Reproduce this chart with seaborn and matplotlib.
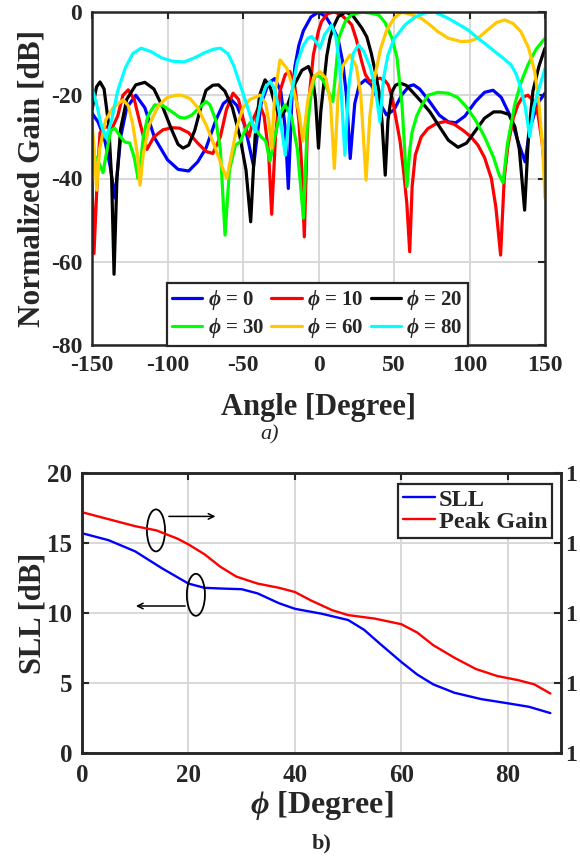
import matplotlib
matplotlib.use("Agg")
import matplotlib.pyplot as plt
from matplotlib.patches import Ellipse
import seaborn as sns

# ---------------- data: panel a) radiation patterns ----------------
ang0 = [-150, -146, -142, -138, -134.8, -131, -127, -121, -115, -108.5, -100, -93, -86, -80, -74.5, -68, -63,
        -58.6, -54, -49, -43, -38, -33, -29, -25, -22, -20, -17.5, -15.6, -13, -10, -5, 0, 5, 10, 13, 16, 18.5,
        21, 24, 27, 31, 35, 40, 45, 50, 55, 60, 63, 67, 72.5, 80, 86, 91, 97, 104, 110, 115.6, 121, 127, 132,
        136.8, 140, 145, 150]
gain0 = [-24.3, -26.4, -30, -37, -44.7, -30, -23, -20, -23, -30.3, -35.5, -37.8, -38.2, -36, -32.7, -26, -22,
         -20.7, -22.5, -27, -37, -22, -17, -16, -19, -28, -42.4, -20, -13, -8, -4.5, -1.2, 0, -1.2, -4.2, -6.5,
         -12, -20, -35.2, -22, -17.5, -16.3, -17.5, -21.5, -24.7, -23.5, -20, -17.8, -17.5, -18.5, -21, -24.8,
         -26.4, -26.6, -25, -21.5, -19.3, -18.8, -20.5, -25, -31, -36, -28, -22, -19.5]

ang10 = [-150, -148.7, -146.5, -144.7, -141, -137, -133, -129.5, -126, -122, -118, -113.6, -109, -103, -97, -92,
         -86, -80, -74.5, -70, -65, -61, -56.6, -53, -49, -46, -43, -39, -36, -33, -31, -28.5, -25.5, -22, -19,
         -16, -13, -11, -9.4, -7.5, -6.7, -3.4, 0, 2, 6, 10.5, 15, 20, 22, 25, 28.6, 31, 34, 37, 40.7, 44, 46.2,
         49, 51, 54, 56.4, 58.5, 60.4, 62, 64.1, 68, 72.5, 78, 84, 90, 96, 101, 105.6, 110, 114.5, 117.5, 120.6,
         123, 125.5, 129, 132, 135, 138.7, 142, 145.4, 148, 150]
gain10 = [-40.8, -58, -40, -29, -27.5, -28.2, -25, -20, -18.7, -21, -27, -33, -30, -28.3, -27.8, -27.9, -29,
          -31.5, -33.5, -34, -30, -23.5, -19.5, -21, -27, -30, -25.5, -22.3, -25, -34, -48.6, -30, -19, -15,
          -14.3, -17, -26, -38, -54, -30, -22.3, -10.3, -4.5, -2.3, -0.4, 0, -0.7, -2.3, -3.1, -6.5, -11.9, -15,
          -16.7, -16.2, -15.9, -16.5, -17.5, -21, -25, -31, -38.4, -46, -57.6, -42, -34.4, -30, -28, -26.8,
          -26.3, -27, -28.5, -30, -32, -35, -40, -47, -58.4, -40, -32, -25.5, -22.3, -20.5, -20, -21.2, -24.7,
          -31, -39]

ang20 = [-150, -147, -144.7, -142, -139, -137, -135.4, -133.5, -131, -127, -121, -115, -109, -103, -97, -93,
         -89.7, -86, -82, -78, -74.5, -70, -66.3, -62, -57, -52, -48, -44.9, -42, -39, -35.4, -32, -29, -25.5,
         -21, -16, -11, -6.7, -4, -2, 0, 1.5, 3.2, 5.5, 7.6, 10, 13.1, 18, 23, 26, 28.8, 32, 35, 37.6, 40, 42,
         44.2, 46, 48.7, 51, 54.2, 58, 62, 68, 73.8, 80, 86, 92.4, 98, 104, 110, 116, 120.9, 126, 130, 133,
         136.5, 139, 142, 146, 150]
gain20 = [-23.5, -18, -16.8, -18.5, -27, -40, -63, -40, -28, -21, -17.5, -16.9, -18.5, -23, -28.5, -31.8,
          -32.7, -32, -28.5, -23, -18.8, -17.6, -17.5, -19, -23, -30, -38, -50.4, -30, -20, -16.3, -18, -22,
          -25.5, -23, -17.5, -14, -13.1, -15.5, -21, -32.7, -24, -18.3, -10.5, -6.3, -3.5, -1.1, 0, -1, -2.5,
          -3.9, -6, -10, -14.3, -19, -26, -39.2, -26, -19.1, -17.6, -17.1, -17.6, -19.1, -21.5, -24, -27.5,
          -30.8, -32.5, -31.5, -28.5, -25.5, -24, -24, -24.6, -27.5, -33, -47.6, -30, -19, -13, -8.7]

ang30 = [-150, -147, -144.5, -142.7, -140, -137.5, -135, -132, -128.4, -125, -122, -119.5, -118.4, -116, -113,
         -108.5, -103, -97, -92, -88.6, -84, -79, -74.5, -71.9, -68, -65, -61.9, -59, -55, -52, -48, -45, -42,
         -38, -35, -32.1, -29, -25.5, -22.2, -18, -14, -10, -7.5, -5, -2.3, 1, 4, 7, 9.5, 11.5, 13.4, 17.7, 22,
         29, 35, 39.9, 44, 48.7, 52, 55.3, 58.5, 60.5, 62, 65, 68.6, 72.5, 79, 85.8, 92, 98, 104, 110, 116,
         119.5, 122.2, 125, 129.9, 134, 138.7, 144, 150]
gain30 = [-34.4, -35, -37, -38.6, -33, -28.5, -27.9, -29.5, -31.2, -31.5, -35, -40, -38, -30, -25, -22.3,
          -22.5, -24, -25.3, -25.5, -24.8, -23, -21.5, -22.3, -26, -33, -53.6, -38, -32, -31.2, -28, -26.5, -28,
          -30, -31, -35.8, -30, -24.5, -22.3, -25, -33, -49.5, -28, -20, -15.3, -15.5, -17, -19.5, -21.5, -14,
          -6.3, -2.3, -0.6, 0, -0.3, -0.7, -2.5, -6.3, -11, -22.3, -42, -33, -28.8, -25, -22.3, -20, -19.3,
          -19.5, -20.5, -22.8, -26, -30, -35, -39, -41, -32, -22.3, -17, -12.7, -9, -6.3]

ang60 = [-150, -148.5, -146.9, -145, -141, -136, -132.6, -129.4, -126, -123, -120, -118.2, -116, -112, -106,
         -100, -94, -90.6, -85, -80, -74, -68, -63, -60.8, -58, -54, -50, -45.4, -38.7, -35, -33, -31, -29,
         -25.5, -21, -17, -13, -10.3, -7, -3, 1, 5, 8, 10.5, 13, 16, 20.9, 25, 28, 31.5, 34, 37, 41, 45, 50, 55,
         62, 68, 73.8, 79, 86, 94.4, 100, 105.6, 112, 118, 123.3, 129, 134, 139, 143.2, 146, 148.5, 150]
gain60 = [-26.7, -33, -42.8, -33, -26, -23, -22, -21.1, -22.5, -27, -34, -41.6, -34, -27, -22.5, -20.5, -20,
          -20, -20.8, -23, -27.5, -33, -38, -40, -35, -27.5, -23, -21, -20, -22, -26, -32.7, -20, -11.5, -13.5,
          -18, -24, -31, -21, -15.5, -14.3, -16, -22, -37.6, -20, -13, -10.3, -13, -20, -40.4, -25, -16, -9,
          -4.5, -1.5, 0, -0.7, -1.5, -3.1, -4.7, -6.3, -7.1, -7, -6.3, -4.3, -2.5, -1.9, -2.8, -4.7, -8.5,
          -14.3, -22, -33, -44.7]

ang80 = [-150, -147, -144, -140.7, -137, -133, -128, -123, -117.5, -111, -104, -97, -89, -82, -75, -69, -65,
         -60, -56, -54.2, -50, -46, -42, -38, -35, -32, -29, -26, -22, -18, -14, -10, -7, -4.5, -1.5, 1, 4,
         8.7, 11.5, 14, 17.5, 20, 23, 26.5, 30, 34, 37.5, 40.7, 43, 46, 50, 57.3, 64, 70.5, 77, 85.8, 92, 99,
         105.6, 111, 116.7, 122, 127.5, 131, 134, 137, 139.9, 142.5, 145.4, 148, 150]
gain80 = [-18.3, -22, -27, -30.3, -26, -19, -13.5, -10, -8.7, -9.5, -11, -11.8, -12, -11, -9.7, -8.9, -8.7,
          -10, -13, -15, -19.5, -24, -28.8, -21, -18, -16.7, -18.5, -24, -34.4, -20, -12, -8, -6.3, -5.9,
          -7.2, -8.7, -5.5, -3.1, -6, -13, -34.4, -18, -10, -7.9, -9.5, -13, -18, -26.4, -16, -10.3, -6.5,
          -3.1, -1.2, -0.2, 0, -1.5, -2.8, -4.3, -6.3, -7.8, -9.5, -11, -12.7, -15, -18.3, -23, -30, -23,
          -19.1, -16, -13.5]

series_labels = [r"$\phi$ = 0", r"$\phi$ = 10", r"$\phi$ = 20", r"$\phi$ = 30", r"$\phi$ = 60", r"$\phi$ = 80"]
series_colors = ["#0000ff", "#ff0000", "#000000", "#00ff00", "#ffc800", "#00ffff"]

# ---------------- data: panel b) SLL and peak gain ----------------
phi_sll = [0, 5, 10, 15, 20, 23, 26, 30, 33, 37, 40, 45, 50, 53, 56, 60, 63, 66, 70, 75, 80, 84, 88]
sll = [15.7, 15.2, 14.4, 13.2, 12.1, 11.8, 11.75, 11.7, 11.4, 10.7, 10.3, 9.95, 9.5, 8.8, 7.8, 6.5, 5.6,
       4.9, 4.3, 3.85, 3.55, 3.3, 2.85]
phi_gain = [0, 5, 10, 14, 18, 20, 23, 26, 29, 33, 37, 40, 43, 47, 50, 55, 60, 63, 66, 70, 74, 78, 82, 85, 88]
peak_gain = [14.44, 14.34, 14.24, 14.18, 14.06, 13.98, 13.84, 13.66, 13.52, 13.42, 13.36, 13.30, 13.18,
             13.04, 12.97, 12.92, 12.84, 12.72, 12.54, 12.36, 12.20, 12.10, 12.04, 11.98, 11.85]
right_ticks = [11, 12, 13, 14, 15]
right_ticklabels = ["1", "1", "1", "1", "1"]   # only the leading digit is visible in the reference

# ---------------- style ----------------
sns.set_style("white")
plt.rcParams["font.family"] = ["Liberation Serif", "DejaVu Serif"]
plt.rcParams["font.weight"] = "bold"
plt.rcParams["axes.labelweight"] = "bold"
plt.rcParams["axes.unicode_minus"] = False
plt.rcParams["mathtext.fontset"] = "custom"
plt.rcParams["mathtext.it"] = "Liberation Serif:italic:bold"
plt.rcParams["mathtext.rm"] = "Liberation Serif:bold"
plt.rcParams["mathtext.bf"] = "Liberation Serif:bold"
TXT = "#262626"

fig = plt.figure(figsize=(5.8, 8.56), dpi=100)

def style_axes(ax, labelsize, pad):
    for s in ax.spines.values():
        s.set_color("#262626")
        s.set_linewidth(1.8)
    ax.grid(True, color="#d6d6d6", lw=1.3)
    ax.set_axisbelow(True)
    ax.tick_params(direction="in", length=5, width=1.5, top=True, right=True,
                   labelsize=labelsize, colors=TXT, pad=pad)
    for lab in ax.get_xticklabels() + ax.get_yticklabels():
        lab.set_fontweight("bold")

# ---------- panel a ----------
ax1 = fig.add_axes([92 / 580, 1 - 345 / 856, 453 / 580, 333 / 856])
angs = [ang0, ang10, ang20, ang30, ang60, ang80]
gains = [gain0, gain10, gain20, gain30, gain60, gain80]
lines = []
for a, g, c, lab in zip(angs, gains, series_colors, series_labels):
    sns.lineplot(x=a, y=g, ax=ax1, color=c, lw=2.3, sort=False, estimator=None, legend=False)
    lines.append(ax1.lines[-1])
ax1.set_xlim(-150, 150)
ax1.set_ylim(-80, 0)
ax1.set_xticks([-150, -100, -50, 0, 50, 100, 150])
ax1.set_yticks([-80, -60, -40, -20, 0])
style_axes(ax1, 17, 7)
ax1.set_xlabel("Angle [Degree]", fontsize=22, color=TXT)
ax1.xaxis.set_label_coords(0.5, -(408 - 345) / 333, transform=ax1.transAxes)
ax1.xaxis.label.set_va("center")
ax1.set_ylabel("Normalized Gain [dB]", fontsize=22.5, color=TXT)
ax1.yaxis.set_label_coords(-(92 - 32) / 453, 0.5, transform=ax1.transAxes)
ax1.yaxis.label.set_va("center")
order = [0, 3, 1, 4, 2, 5]
leg1 = ax1.legend([lines[i] for i in order], [series_labels[i] for i in order], ncol=3,
                  loc="upper left", bbox_to_anchor=((167 - 92) / 453, (345 - 283) / 333),
                  borderaxespad=0, frameon=True, fancybox=False, framealpha=1, edgecolor="#262626",
                  handlelength=1.45, handletextpad=0.25, columnspacing=0.35,
                  labelspacing=0.2, borderpad=0.25, prop={"weight": "bold", "size": 15})
leg1.get_frame().set_linewidth(1.6)
for t in leg1.get_texts():
    t.set_color(TXT)

fig.text(270 / 580, 1 - 435 / 856, "a)", ha="center", va="center", fontsize=16,
         style="italic", fontweight="normal", color=TXT)

# ---------- panel b ----------
ax2 = fig.add_axes([82 / 580, 1 - 753 / 856, 479 / 580, 280 / 856])
sns.lineplot(x=phi_sll, y=sll, ax=ax2, color="#0000ff", lw=1.7, sort=False, estimator=None,
             legend=False)
ax2.set_xlim(0, 90)
ax2.set_ylim(0, 20)
ax2.set_xticks([0, 20, 40, 60, 80])
ax2.set_yticks([0, 5, 10, 15, 20])
style_axes(ax2, 18, 7)
ax2.tick_params(axis="x", pad=8)
ax2.tick_params(right=False)
ax2.set_xlabel(r"$\phi$ [Degree]", fontsize=23, color=TXT)
ax2.xaxis.set_label_coords(0.5, -(806 - 753) / 280, transform=ax2.transAxes)
ax2.xaxis.label.set_va("center")
ax2.set_ylabel("SLL [dB]", fontsize=22, color=TXT)
ax2.yaxis.set_label_coords(-(82 - 33) / 479, 0.5, transform=ax2.transAxes)
ax2.yaxis.label.set_va("center")

ax3 = ax2.twinx()
sns.lineplot(x=phi_gain, y=peak_gain, ax=ax3, color="#ff0000", lw=1.7, sort=False, estimator=None,
             legend=False)
ax3.set_ylim(min(right_ticks), max(right_ticks))
ax3.set_yticks(right_ticks)
ax3.set_yticklabels(right_ticklabels)
ax3.tick_params(direction="in", length=5, width=1.5, labelsize=17, colors=TXT, pad=3)
for lab in ax3.get_yticklabels():
    lab.set_fontweight("bold")
for s in ax3.spines.values():
    s.set_color("#262626")
    s.set_linewidth(1.8)
ax3.grid(False)

# annotations (ellipses + arrows), in left-axis data units
ax2.add_patch(Ellipse((13.9, 15.9), 3.4, 3.0, fill=False, ec="black", lw=1.3, zorder=5))
ax2.annotate("", xy=(25.6, 16.9), xytext=(15.8, 16.9),
             arrowprops=dict(arrowstyle="->", color="black", lw=1.1))
ax2.add_patch(Ellipse((21.4, 11.3), 3.4, 3.0, fill=False, ec="black", lw=1.3, zorder=5))
ax2.annotate("", xy=(9.6, 10.5), xytext=(19.9, 10.5),
             arrowprops=dict(arrowstyle="->", color="black", lw=1.1))

h_sll = ax2.lines[0]
h_pg = ax3.lines[0]
leg2 = ax3.legend([h_sll, h_pg], ["SLL", "Peak Gain"], loc="upper right",
                  bbox_to_anchor=((552 - 82) / 479, (753 - 484) / 280), borderaxespad=0,
                  frameon=True, fancybox=False, framealpha=1, edgecolor="#262626",
                  handlelength=1.3, handletextpad=0.15, labelspacing=0.0, borderpad=0.2,
                  prop={"weight": "bold", "size": 17.5})
leg2.get_frame().set_linewidth(1.6)
for t in leg2.get_texts():
    t.set_color(TXT)

fig.text(322 / 580, 1 - 843 / 856, "b)", ha="center", va="center", fontsize=16,
         fontweight="bold", color=TXT)

fig.savefig("out.png", dpi=100)
